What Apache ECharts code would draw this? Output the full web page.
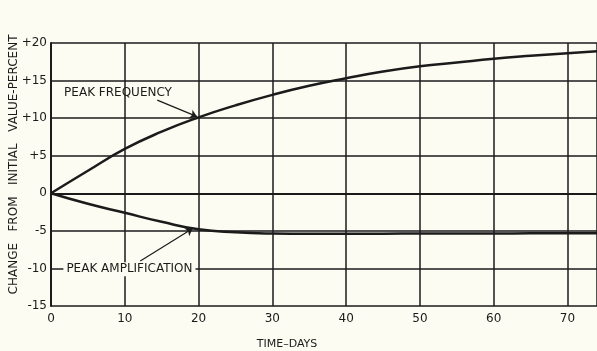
<!DOCTYPE html>
<html>
<head>
<meta charset="utf-8">
<script src="https://cdn.jsdelivr.net/npm/echarts@6/dist/echarts.min.js"></script>
<style>
  html, body { margin: 0; padding: 0; background: #fcfcf2; }
  #chart { width: 597px; height: 351px; }
</style>
</head>
<body>
<div id="chart"></div>
<script>
// values (days, percent change)
const days = [0, 5, 10, 15, 20, 25, 30, 35, 40, 45, 50, 55, 60, 65, 70, 74]
const peakFrequency = [0, 3.0, 5.9, 8.2, 10.1, 11.7, 13.1, 14.3, 15.3, 16.2, 16.9, 17.4, 17.9, 18.3, 18.65, 18.9]
const peakAmplification = [0, -1.4, -2.6, -3.8, -4.8, -5.2, -5.35, -5.38, -5.38, -5.37, -5.36, -5.35, -5.35, -5.33, -5.32, -5.32]
const yTicks = [-15, -10, -5, 0, 5, 10, 15, 20]

const chart = echarts.init(document.getElementById('chart'))
const ink = '#1b1b1b'
const paper = '#fcfcf2'
const font = 'DejaVu Sans'

const toPairs = (ys) => days.map((d, i) => [d, ys[i]])

const option = {
  backgroundColor: paper,
  animation: false,
  grid: { left: 51, right: 0, top: 43, bottom: 45, containLabel: false, outerBoundsMode: 'none' },
  xAxis: {
    type: 'value',
    min: 0,
    max: 74,
    interval: 10,
    name: 'TIME–DAYS',
    nameLocation: 'middle',
    nameGap: 33,
    nameTextStyle: { color: ink, fontFamily: font, fontSize: 11, padding: [0, 74, 0, 0] },
    axisLine: { show: true, lineStyle: { color: ink, width: 2 } },
    axisTick: { show: false },
    axisLabel: { color: ink, fontFamily: font, fontSize: 12, margin: 7, showMaxLabel: false },
    splitLine: { show: true, lineStyle: { color: ink, width: 1.5 } }
  },
  yAxis: {
    type: 'value',
    min: yTicks[0],
    max: yTicks[yTicks.length - 1],
    interval: 5,
    name: 'CHANGE   FROM   INITIAL   VALUE-PERCENT',
    nameLocation: 'middle',
    nameGap: 31,
    nameMoveOverlap: false,
    nameRotate: 90,
    nameTextStyle: { color: ink, fontFamily: font, fontSize: 12, padding: [0, 0, 0, 20] },
    axisLine: { show: true, lineStyle: { color: ink, width: 2 } },
    axisTick: { show: false },
    axisLabel: {
      color: ink, fontFamily: font, fontSize: 12, margin: 4,
      formatter: v => (v > 0 ? '+' + v : String(v))
    },
    splitLine: { show: true, lineStyle: { color: ink, width: 1.5 } }
  },
  series: [
    {
      name: 'PEAK FREQUENCY',
      type: 'line',
      data: toPairs(peakFrequency),
      smooth: true,
      symbol: 'none',
      lineStyle: { color: ink, width: 2.5 },
      markLine: {
        silent: true,
        symbol: ['none', 'arrow'],
        symbolSize: 7,
        lineStyle: { color: ink, width: 1.2, type: 'solid' },
        label: { show: false },
        data: [[{ coord: [14.4, 12.4] }, { coord: [19.8, 10.2] }]]
      },
      markPoint: {
        silent: true,
        symbolSize: 0,
        label: {
          show: true, position: 'right', color: ink, fontFamily: font, fontSize: 12,
          formatter: 'PEAK FREQUENCY'
        },
        data: [{ coord: [1.1, 13.4] }]
      }
    },
    {
      name: 'PEAK AMPLIFICATION',
      type: 'line',
      data: toPairs(peakAmplification),
      smooth: true,
      symbol: 'none',
      lineStyle: { color: ink, width: 2.5 },
      markLine: {
        silent: true,
        symbol: ['none', 'arrow'],
        symbolSize: 7,
        lineStyle: { color: ink, width: 1.2, type: 'solid' },
        label: { show: false },
        data: [[{ coord: [12.1, -9.0] }, { coord: [19.2, -4.7] }]]
      },
      markPoint: {
        silent: true,
        symbolSize: 0,
        label: {
          show: true, position: 'right', color: ink, fontFamily: font, fontSize: 12,
          backgroundColor: paper, padding: [1, 3],
          formatter: 'PEAK AMPLIFICATION'
        },
        data: [{ coord: [1.0, -10.1] }]
      }
    }
  ]
}

chart.setOption(option)
</script>
</body>
</html>
